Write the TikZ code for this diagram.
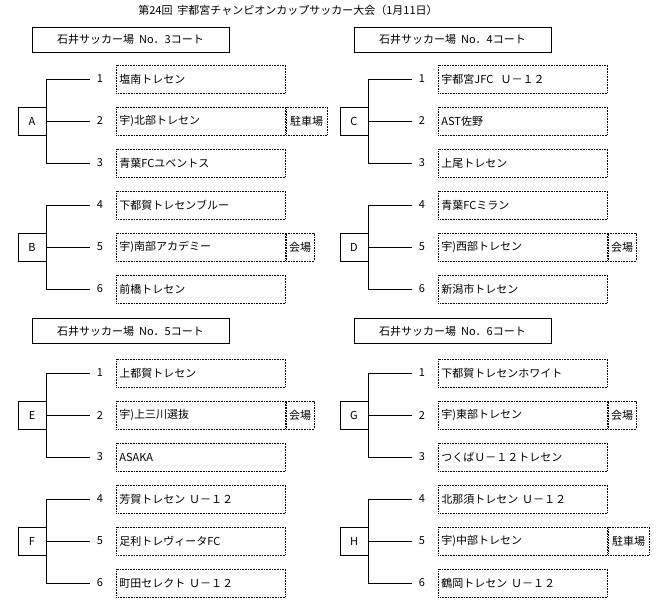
\documentclass[tikz,border=0pt]{standalone}
\usepackage{fontspec}
\setmainfont{Noto Sans CJK JP}
\begin{document}
\begin{tikzpicture}[x=1pt,y=-1pt,line width=0.8pt,
  team/.style={draw,dash pattern=on 0.8pt off 0.8pt,minimum width=169pt,minimum height=28pt,anchor=west,text width=163pt,align=left,inner sep=3pt,font=\fontsize{11}{12}\selectfont},
  extra/.style={draw,dash pattern=on 0.8pt off 0.8pt,minimum height=28pt,anchor=west,inner sep=1pt,font=\fontsize{11}{12}\selectfont},
  num/.style={minimum width=20pt,inner sep=0pt,font=\fontsize{11}{12}\selectfont},
  grp/.style={draw,minimum width=28pt,minimum height=28pt,inner sep=0pt,font=\fontsize{11}{12}\selectfont},
  court/.style={draw,minimum width=197pt,minimum height=25pt,inner sep=0pt,font=\fontsize{11}{12}\selectfont}]
\useasboundingbox (0,0) rectangle (663,605);
\node[font=\fontsize{11}{12}\selectfont] (title) at (288,10) {第24回\ \ 宇都宮チャンピオンカップサッカー大会（1月11日）};
% courts
\node[court] (c3) at (130.5,39.5) {石井サッカー場\ \ No．3コート};
\node[court] (c4) at (452.5,39.5) {石井サッカー場\ \ No．4コート};
\node[court] (c5) at (130.5,331) {石井サッカー場\ \ No．5コート};
\node[court] (c6) at (452.5,331) {石井サッカー場\ \ No．6コート};
% groups: name/xoff/y of middle row
\foreach \g/\xo/\ym in {A/0/121,B/0/247,C/322/121,D/322/247,E/0/415,F/0/541,G/322/415,H/322/541}{
  \node[grp] (g\g) at (32+\xo,\ym) {\g};
}
% teams
\foreach \g/\xo/\ym/\a/\b/\c/\na/\nb/\nc in {
  A/0/121/塩南トレセン/宇)北部トレセン/青葉FCユベントス/1/2/3,
  B/0/247/下都賀トレセンブルー/宇)南部アカデミー/前橋トレセン/4/5/6,
  C/322/121/宇都宮JFC\ \ Ｕ－１２/AST佐野/上尾トレセン/1/2/3,
  D/322/247/青葉FCミラン/宇)西部トレセン/新潟市トレセン/4/5/6,
  E/0/415/上都賀トレセン/宇)上三川選抜/ASAKA/1/2/3,
  F/0/541/芳賀トレセン\ Ｕ－１２/足利トレヴィータFC/町田セレクト\ Ｕ－１２/4/5/6,
  G/322/415/下都賀トレセンホワイト/宇)東部トレセン/つくばＵ－１２トレセン/1/2/3,
  H/322/541/北那須トレセン\ Ｕ－１２/宇)中部トレセン/鶴岡トレセン\ Ｕ－１２/4/5/6}{
  \node[num] (n\g1) at (100+\xo,\ym-42) {\na};
  \node[num] (n\g2) at (100+\xo,\ym) {\nb};
  \node[num] (n\g3) at (100+\xo,\ym+42) {\nc};
  \node[team] (t\g1) at (116+\xo,\ym-42) {\a};
  \node[team] (t\g2) at (116+\xo,\ym) {\b};
  \node[team] (t\g3) at (116+\xo,\ym+42) {\c};
  \draw (g\g.east) -- (n\g2.west);
  \draw (n\g1.west) -| (g\g.north east);
  \draw (n\g3.west) -| (g\g.south east);
}
% extra boxes
\node[extra,minimum width=41pt] (xA) at (tA2.east) {駐車場};
\node[extra,minimum width=28pt] (xB) at (tB2.east) {会場};
\node[extra,minimum width=28pt] (xD) at (tD2.east) {会場};
\node[extra,minimum width=28pt] (xE) at (tE2.east) {会場};
\node[extra,minimum width=28pt] (xG) at (tG2.east) {会場};
\node[extra,minimum width=41pt] (xH) at (tH2.east) {駐車場};
\end{tikzpicture}
\end{document}
